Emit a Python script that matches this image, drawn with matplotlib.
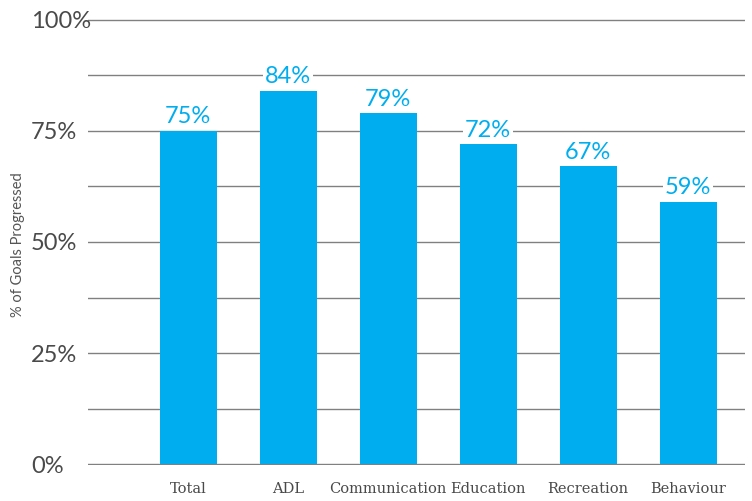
import matplotlib
matplotlib.use('Agg')
import matplotlib.pyplot as plt
import numpy as np

# Share of goals progressed per domain
categories = ['Total', 'ADL', 'Communication', 'Education', 'Recreation', 'Behaviour']
values = [75, 84, 79, 72, 67, 59]
y_ticks = [0, 25, 50, 75, 100]

BLUE = '#00AEEF'

fig = plt.figure(figsize=(7.52, 5.01), dpi=100)
ax = fig.add_axes([88 / 752, 1 - 465 / 501, (745 - 88) / 752, (465 - 19) / 501])

x = np.arange(len(categories))
ax.bar(x, values, width=0.57, color=BLUE, zorder=2)

# gridlines every 12.5%, labels only on quarters
for g in np.arange(0, 100.1, 12.5):
    ax.axhline(g, color='#808080', lw=1.0, zorder=1)

for xi, v in zip(x, values):
    ax.text(xi, v + 0.8, f'{v}%', ha='center', va='bottom', fontsize=17,
            family='Lato', color=BLUE, zorder=3,
            bbox=dict(facecolor='white', edgecolor='none', pad=1.5))

ax.set_xlim(-1.0, 5.57)
ax.set_ylim(-0.2, 100.2)
ax.set_yticks(y_ticks)
ax.set_yticklabels([f'{t}%' for t in y_ticks], family='Lato', fontsize=17,
                   color='#4a4a4a', ha='left')
ax.set_xticks(x)
ax.set_xticklabels(categories, family='DejaVu Serif', fontsize=10.5, color='#4a4a4a')
ax.tick_params(axis='both', length=0)
ax.tick_params(axis='x', pad=12)
ax.tick_params(axis='y', pad=41)
for s in ax.spines.values():
    s.set_visible(False)

fig.text(18 / 752, 1 - 245 / 501, '% of Goals Progressed', rotation=90, ha='center', va='center',
         family='Lato', fontsize=10.5, color='#555555')

plt.savefig('out.png', dpi=100)
